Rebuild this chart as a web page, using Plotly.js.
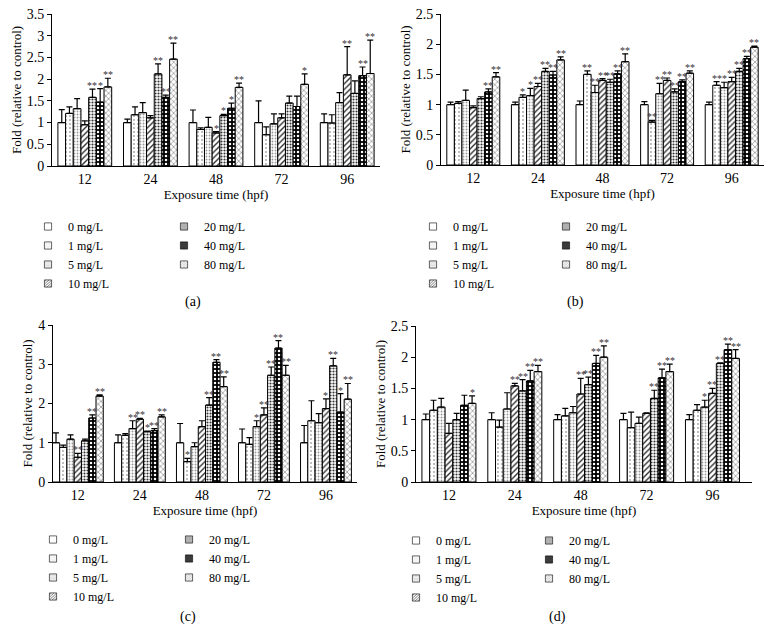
<!DOCTYPE html>
<html><head><meta charset="utf-8">
<script src="https://cdn.plot.ly/plotly-3.0.1.min.js"></script>
<style>html,body{margin:0;padding:0;background:#fff}#chart{width:768px;height:644px}</style>
</head><body><div id="chart"></div>
<script>
const timeLabels = ['12', '24', '48', '72', '96'];
const seriesNames = ['0 mg/L', '1 mg/L', '5 mg/L', '10 mg/L', '20 mg/L', '40 mg/L', '80 mg/L'];
const panelLabels = ['(a)', '(b)', '(c)', '(d)'];
const yTitle = 'Fold (relative to control)';
const xTitle = 'Exposure time (hpf)';

// Panel (a)
const aValues = [
  [1.00, 1.00, 1.00, 1.00, 1.00],
  [1.21, 1.18, 0.84, 0.72, 0.99],
  [1.32, 1.23, 0.89, 0.97, 1.46],
  [0.95, 1.11, 0.76, 1.11, 2.10],
  [1.58, 2.12, 1.16, 1.45, 1.67],
  [1.47, 1.58, 1.33, 1.37, 2.08],
  [1.82, 2.46, 1.81, 1.88, 2.13]
];
const aErrors = [
  [0.30, 0.08, 0.29, 0.50, 0.20],
  [0.15, 0.18, 0.04, 0.18, 0.19],
  [0.23, 0.23, 0.23, 0.23, 0.23],
  [0.09, 0.05, 0.03, 0.09, 0.65],
  [0.19, 0.23, 0.03, 0.16, 0.29],
  [0.31, 0.05, 0.12, 0.24, 0.20],
  [0.20, 0.37, 0.10, 0.24, 0.77]
];
const aStars = [
  ['', '', '', '', ''],
  ['', '', '', '', ''],
  ['', '', '', '', ''],
  ['', '', '*', '', '**'],
  ['**', '**', '*', '', ''],
  ['*', '**', '*', '', '**'],
  ['**', '**', '**', '*', '**']
];

// Panel (b)
const bValues = [
  [1.00, 1.00, 1.00, 1.00, 1.00],
  [1.02, 1.12, 1.50, 0.71, 1.32],
  [1.07, 1.15, 1.20, 1.18, 1.28],
  [0.95, 1.30, 1.40, 1.40, 1.38],
  [1.10, 1.55, 1.37, 1.21, 1.55],
  [1.21, 1.49, 1.51, 1.38, 1.76],
  [1.46, 1.74, 1.71, 1.52, 1.95]
];
const bErrors = [
  [0.04, 0.04, 0.06, 0.05, 0.04],
  [0.03, 0.04, 0.06, 0.03, 0.06],
  [0.17, 0.12, 0.12, 0.17, 0.09],
  [0.03, 0.05, 0.03, 0.04, 0.07],
  [0.03, 0.05, 0.05, 0.05, 0.05],
  [0.05, 0.06, 0.05, 0.03, 0.04],
  [0.07, 0.05, 0.13, 0.04, 0.02]
];
const bStars = [
  ['', '', '', '', ''],
  ['', '*', '**', '**', '**'],
  ['', '*', '**', '**', '*'],
  ['', '**', '**', '**', '**'],
  ['', '**', '**', '**', '**'],
  ['**', '**', '**', '**', '**'],
  ['**', '**', '**', '**', '**']
];

// Panel (c)
const cValues = [
  [1.00, 1.00, 1.00, 1.00, 1.00],
  [0.88, 1.19, 0.52, 0.96, 1.56],
  [1.09, 1.36, 0.90, 1.41, 1.51],
  [0.63, 1.60, 1.41, 1.71, 1.87],
  [1.05, 1.28, 1.96, 2.72, 2.96],
  [1.63, 1.31, 3.05, 3.41, 1.78],
  [2.19, 1.66, 2.43, 2.72, 2.11]
];
const cErrors = [
  [0.25, 0.20, 0.49, 0.35, 0.44],
  [0.06, 0.04, 0.08, 0.17, 0.51],
  [0.11, 0.20, 0.10, 0.15, 0.23],
  [0.10, 0.02, 0.15, 0.18, 0.25],
  [0.04, 0.02, 0.19, 0.21, 0.19],
  [0.08, 0.05, 0.07, 0.19, 0.47],
  [0.03, 0.05, 0.25, 0.25, 0.40]
];
const cStars = [
  ['', '', '', '', ''],
  ['', '', '*', '', ''],
  ['', '**', '', '*', ''],
  ['**', '**', '', '**', '*'],
  ['', '*', '**', '**', '**'],
  ['**', '**', '**', '**', '*'],
  ['**', '**', '**', '**', '**']
];

// Panel (d)
const dValues = [
  [1.00, 1.00, 1.00, 1.00, 1.00],
  [1.15, 0.88, 1.06, 0.87, 1.15],
  [1.20, 1.17, 1.11, 0.94, 1.20],
  [0.78, 1.54, 1.41, 1.10, 1.42],
  [1.00, 1.46, 1.56, 1.34, 1.90],
  [1.23, 1.62, 1.90, 1.67, 2.12],
  [1.26, 1.77, 2.00, 1.77, 1.98]
];
const dErrors = [
  [0.09, 0.11, 0.08, 0.10, 0.08],
  [0.16, 0.11, 0.12, 0.25, 0.09],
  [0.14, 0.26, 0.10, 0.10, 0.11],
  [0.16, 0.04, 0.25, 0.01, 0.08],
  [0.10, 0.18, 0.12, 0.13, 0.01],
  [0.16, 0.17, 0.13, 0.14, 0.09],
  [0.12, 0.10, 0.18, 0.12, 0.14]
];
const dStars = [
  ['', '', '', '', ''],
  ['', '', '', '', ''],
  ['', '', '', '', '*'],
  ['', '**', '**', '', '**'],
  ['', '**', '**', '**', '**'],
  ['', '**', '**', '**', '**'],
  ['*', '**', '**', '**', '**']
];

const panelValues = [aValues, bValues, cValues, dValues];
const panelErrors = [aErrors, bErrors, cErrors, dErrors];
const panelStars = [aStars, bStars, cStars, dStars];

// ---------- styling / layout ----------
const FONT = "'Liberation Serif', serif";
const W = 768, H = 644;
const BARGAP = 0.18;
const patterns = [
  {shape: '', fgcolor: '#000', bgcolor: '#fff', size: 4, solidity: 0.2},
  {shape: '.', fgcolor: '#444', bgcolor: '#fff', size: 4, solidity: 0.08},
  {shape: '.', fgcolor: '#999', bgcolor: '#fff', size: 3, solidity: 0.3},
  {shape: '/', fgcolor: '#333', bgcolor: '#fff', size: 4, solidity: 0.35},
  {shape: '.', fgcolor: '#333', bgcolor: '#fff', size: 3, solidity: 0.4},
  {shape: '.', fgcolor: '#fff', bgcolor: '#000', size: 4, solidity: 0.3},
  {shape: 'x', fgcolor: '#888', bgcolor: '#fff', size: 4, solidity: 0.3}
];
// pixel boxes
const boxes = [
  {l: 52, r: 380, t: 14, b: 166, ymax: 3.5, dtick: 0.5, xr: [-0.5, 4.5]},
  {l: 441, r: 764, t: 14, b: 165, ymax: 2.5, dtick: 0.5, xr: [-0.5, 4.5]},
  {l: 53, r: 357, t: 325, b: 482, ymax: 4, dtick: 1, xr: [-0.4, 4.5]},
  {l: 416, r: 752, t: 326, b: 482, ymax: 2.5, dtick: 0.5, xr: [-0.5, 4.6]}
];
// legend columns: [x px, y px top]
const legendPos = [
  [[28, 212], [164, 212]],
  [[413, 212], [546, 212]],
  [[33, 525], [169, 525]],
  [[396, 526], [529, 526]]
];
const labelPos = [[193, 302], [575, 302], [188, 617], [557, 617]];

const traces = [];
const annotations = [];
const layout = {
  width: W, height: H,
  margin: {l: 0, r: 0, t: 0, b: 0},
  paper_bgcolor: '#fff', plot_bgcolor: '#fff',
  barmode: 'group', bargap: BARGAP, bargroupgap: 0,
  font: {family: FONT, color: '#000', size: 12},
  showlegend: true
};

const nS = seriesNames.length;
const bw = (1 - BARGAP) / nS;

for (let p = 0; p < 4; p++) {
  const sfx = p === 0 ? '' : String(p + 1);
  const bx = boxes[p];
  layout['xaxis' + sfx] = {
    domain: [bx.l / W, bx.r / W], anchor: 'y' + sfx,
    type: 'category', range: bx.xr,
    showline: true, linecolor: '#000', linewidth: 1, ticks: '',
    showgrid: false, zeroline: false,
    tickfont: {family: FONT, size: 14},
    title: {text: xTitle, font: {family: FONT, size: 13}, standoff: 4}
  };
  layout['yaxis' + sfx] = {
    domain: [1 - bx.b / H, 1 - bx.t / H], anchor: 'x' + sfx,
    range: [0, bx.ymax], dtick: bx.dtick, tick0: 0,
    showline: true, linecolor: '#000', linewidth: 1,
    ticks: 'outside', ticklen: 4, tickcolor: '#000',
    showgrid: false, zeroline: false,
    tickfont: {family: FONT, size: 14},
    title: {text: yTitle, font: {family: FONT, size: 13}, standoff: 2}
  };
  const legA = 'legend' + (p === 0 ? '' : String(2 * p + 1));
  const legB = 'legend' + String(2 * p + 2);
  [legA, legB].forEach((lg, k) => {
    const pos = legendPos[p][k];
    layout[lg] = {
      x: pos[0] / W, y: 1 - pos[1] / H, xanchor: 'left', yanchor: 'top',
      bgcolor: 'rgba(0,0,0,0)', borderwidth: 0,
      font: {family: FONT, size: 12}, tracegroupgap: 0, traceorder: 'normal',
      itemwidth: 30
    };
  });

  const vals = panelValues[p], errs = panelErrors[p], stars = panelStars[p];
  for (let i = 0; i < nS; i++) {
    const pt = patterns[i];
    traces.push({
      type: 'bar', name: seriesNames[i],
      x: timeLabels, y: vals[i],
      xaxis: 'x' + sfx, yaxis: 'y' + sfx,
      legend: i < 4 ? legA : legB,
      marker: {
        color: '#fff',
        line: {color: '#000', width: 1},
        pattern: {shape: pt.shape, fgcolor: pt.fgcolor, bgcolor: pt.bgcolor,
                  size: pt.size, solidity: pt.solidity, fillmode: 'replace'}
      },
      error_y: {type: 'data', symmetric: false, array: errs[i],
                arrayminus: errs[i].map(() => 0),
                color: '#000', thickness: 1.2, width: 3},
      hoverinfo: 'skip'
    });
    for (let j = 0; j < timeLabels.length; j++) {
      if (!stars[i][j]) continue;
      annotations.push({
        xref: 'x' + sfx, yref: 'y' + sfx,
        x: j + (i - (nS - 1) / 2) * bw, y: vals[i][j] + errs[i][j],
        text: stars[i][j], showarrow: false, yanchor: 'bottom', xanchor: 'center',
        yshift: -4,
        font: {family: FONT, size: 10, color: '#333'}
      });
    }
  }
  annotations.push({
    xref: 'paper', yref: 'paper',
    x: labelPos[p][0] / W, y: 1 - labelPos[p][1] / H,
    text: panelLabels[p], showarrow: false, xanchor: 'center', yanchor: 'middle',
    font: {family: FONT, size: 14, color: '#000'}
  });
}
layout.annotations = annotations;

Plotly.newPlot('chart', traces, layout, {staticPlot: true, displayModeBar: false}).then(gd => {
  // shrink legend swatches to the small squares of the reference
  gd.querySelectorAll('.legendpoints path').forEach(el => {
    const old = el.getAttribute('transform') || '';
    el.setAttribute('transform', old + ' scale(0.6)');
  });
});
</script>
</body></html>
